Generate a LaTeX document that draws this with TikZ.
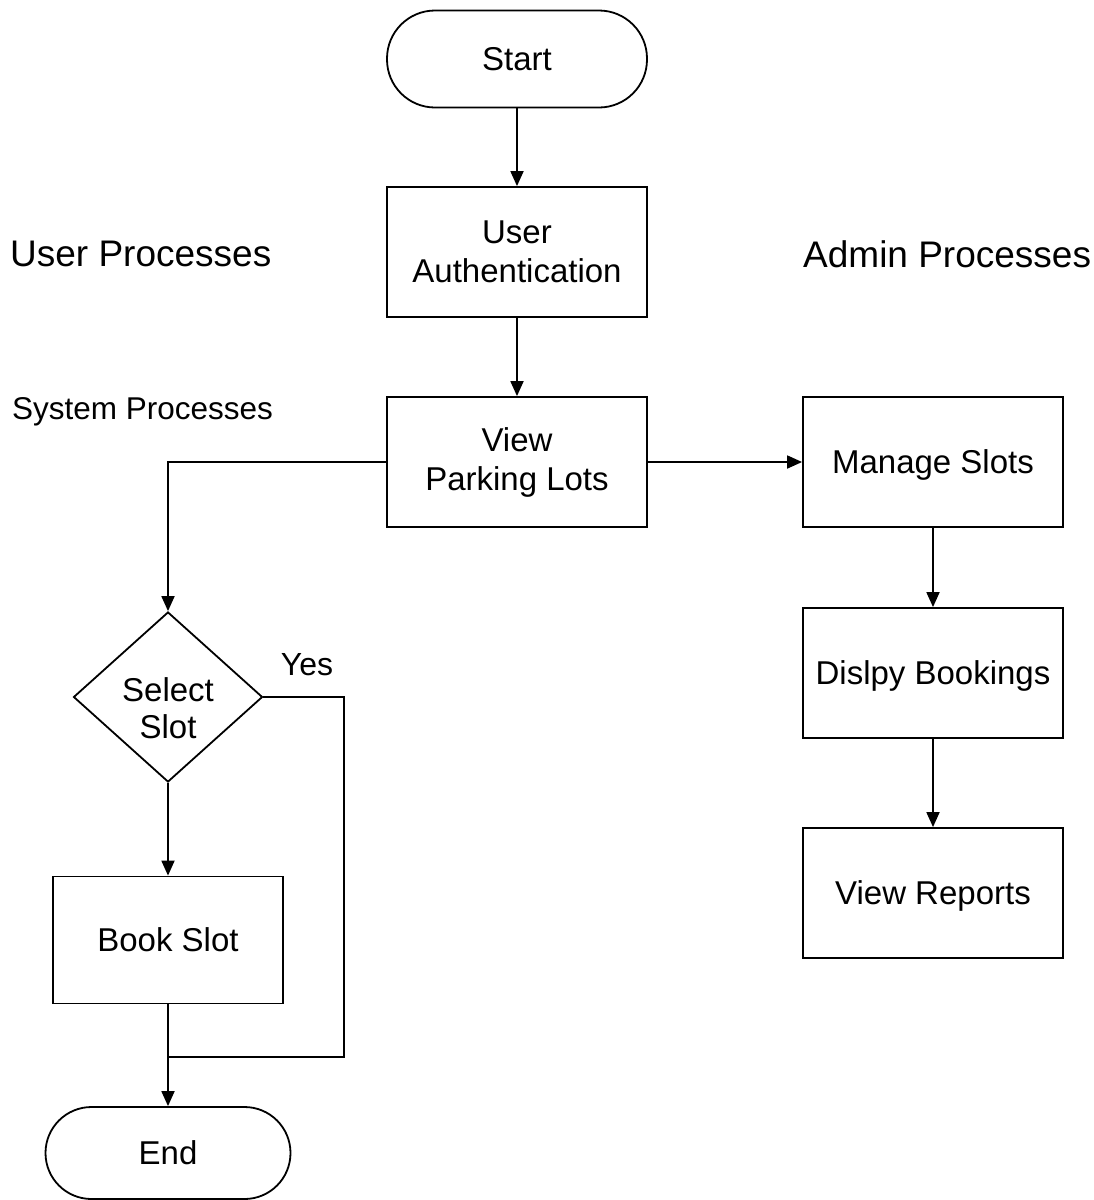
\documentclass[tikz,border=0pt]{standalone}
\usepackage{fontspec}
\setmainfont{Liberation Sans}
\usetikzlibrary{shapes.geometric,arrows.meta}
\begin{document}
\begin{tikzpicture}[x=1pt,y=-1pt,
  base/.style={draw,line width=1.8pt,align=center,inner sep=0pt,
    font=\fontsize{33}{39}\selectfont},
  oneline/.style={text height=23.6pt,text depth=0pt},
  procbox/.style={base,rectangle,minimum width=260pt,minimum height=130pt},
  termbox/.style={base,rectangle,rounded corners=48pt,minimum width=260pt,minimum height=97pt},
  decbox/.style={base,diamond,minimum width=189pt,minimum height=170pt,aspect=1.11},
  label text/.style={align=center,inner sep=0pt,font=\fontsize{33}{37}\selectfont},
  flow/.style={line width=1.8pt,-{Triangle[length=15pt,width=13pt]}},
  plain/.style={line width=1.8pt},
  heading/.style={anchor=west,inner sep=0pt,font=\fontsize{37}{44}\selectfont},
  subheading/.style={anchor=west,inner sep=0pt,font=\fontsize{31.5}{38}\selectfont}]
\useasboundingbox (0,0) rectangle (1094,1200);

% section headings
\node[heading] (userhead) at (10,254) {User Processes};
\node[heading] (adminhead) at (803,254) {Admin Processes};
\node[subheading] (syshead) at (12,412) {System Processes};

% main column
\node[termbox,oneline] (start) at (517,59) {Start};
\node[procbox] (auth) at (517,252) {User\\Authentication};
\node[procbox] (view) at (517,462) {View\\Parking Lots};

% admin column
\node[procbox,oneline] (manage) at (933,462) {Manage Slots};
\node[procbox,oneline] (display) at (933,673) {Dislpy Bookings};
\node[procbox,oneline] (reports) at (933,893) {View Reports};

% user column
\node[decbox] (select) at (168,697) {};
\node[label text] (selecttext) at (168,708) {Select\\Slot};
\node[procbox,oneline,minimum width=230pt,minimum height=127pt] (book) at (168,940) {Book Slot};
\node[termbox,oneline,minimum width=245pt,minimum height=92pt,rounded corners=46pt] (end) at (168,1153) {End};

\coordinate (yesturn) at (344,697);
\coordinate (yesdown) at (344,1057);
\coordinate (merge) at (168,1057);

\node[anchor=center,inner sep=0pt,font=\fontsize{32}{38}\selectfont] (yes) at (307,665) {Yes};

% connectors
\draw[flow] (start) -- (auth);
\draw[flow] (auth) -- (view);
\draw[flow] (view) -- (manage);
\draw[flow] (manage) -- (display);
\draw[flow] (display) -- (reports);
\draw[flow] (view.west) -| (select.north);
\draw[flow] (select) -- (book);
\draw[flow] (book) -- (end);
\draw[plain] (select.east) -- (yesturn) -- (yesdown) -- (merge);
\end{tikzpicture}
\end{document}
